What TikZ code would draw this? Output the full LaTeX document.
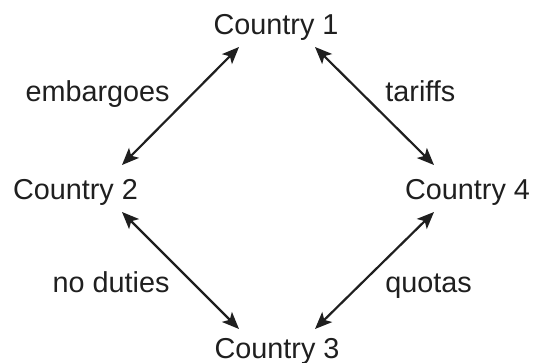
\documentclass[tikz,border=0pt]{standalone}
\usepackage{fontspec}
\setmainfont{Liberation Sans}
\usepackage{tikz}
\usetikzlibrary{calc, arrows.meta}

\begin{document}
\begin{tikzpicture}[x=0.5pt, y=-0.5pt]
		\tikzstyle{country}=[inner sep=0pt, anchor=base, font=\fontsize{14.4}{17}\selectfont, text=black!88]
		\tikzstyle{policy}=[inner sep=0pt, font=\fontsize{14.4}{17}\selectfont, text=black!88]
		\tikzstyle{trade}=[{Stealth[length=8.5pt, width=7pt, inset=2pt]}-{Stealth[length=8.5pt, width=7pt, inset=2pt]}, line width=1.1pt, black!88]

		\useasboundingbox (0,0) rectangle (534,363);

		\node[country] (c1) at (276,35) {Country 1};
		\node[country] (c2) at (75.5,199) {Country 2};
		\node[country] (c4) at (467.5,199) {Country 4};
		\node[country] (c3) at (277,358) {Country 3};

		\node[policy, anchor=base east] (embargo) at (170,102) {embargoes};
		\node[policy, anchor=base west] (tariff) at (385,102) {tariffs};
		\node[policy, anchor=base east] (duty) at (170,292) {no duties};
		\node[policy, anchor=base west] (quota) at (385,292) {quotas};

		\draw[trade] ($(c1.base)+(-37,12)$) -- ($(c2.base)+(46.5,-34)$);
		\draw[trade] ($(c1.base)+(39,12)$) -- ($(c4.base)+(-33.5,-34)$);
		\draw[trade] ($(c2.base)+(46.5,13)$) -- ($(c3.base)+(-38,-29)$);
		\draw[trade] ($(c4.base)+(-33.5,13)$) -- ($(c3.base)+(38,-29)$);

	\end{tikzpicture}
\end{document}
